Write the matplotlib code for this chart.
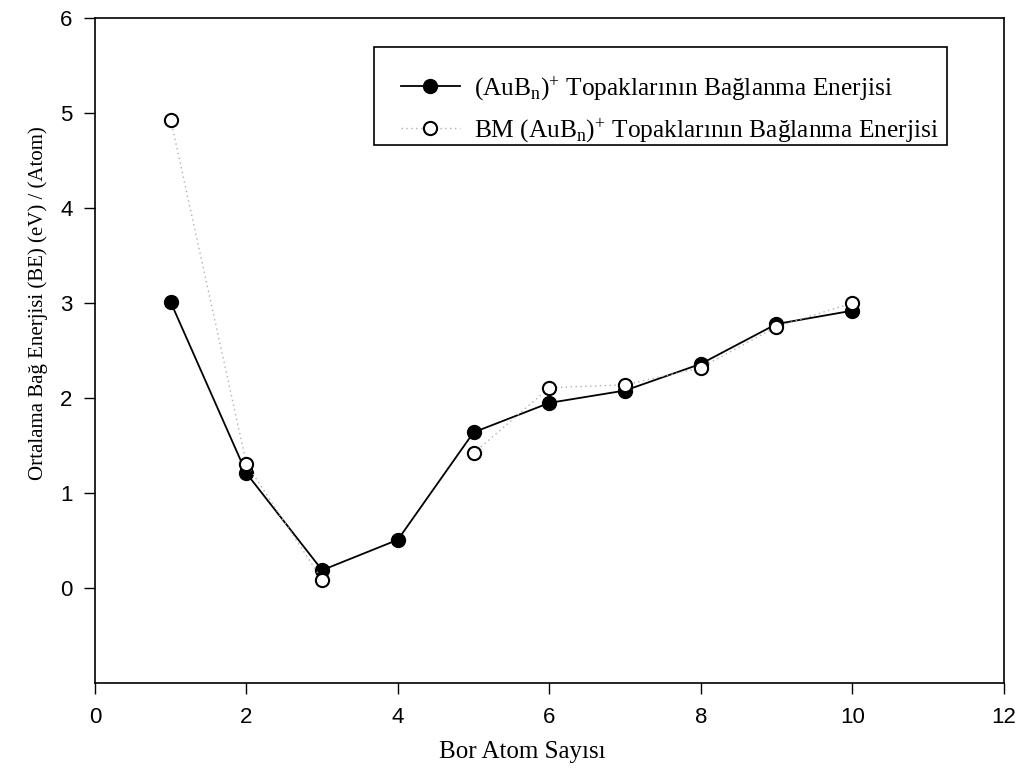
import matplotlib.pyplot as plt
from matplotlib.patches import Rectangle

# ---- data ----
# BM series has no value at n=4 (the dotted line is broken there)
n_bm = [1, 2, 3, 4, 5, 6, 7, 8, 9, 10]
be_bm = [4.93, 1.31, 0.09, float('nan'), 1.42, 2.11, 2.14, 2.32, 2.75, 3.00]

n_calc = [1, 2, 3, 4, 5, 6, 7, 8, 9, 10]
be_calc = [3.01, 1.21, 0.19, 0.51, 1.64, 1.95, 2.08, 2.36, 2.78, 2.92]

label_calc = r'(AuB$_\mathregular{n}$)$^\mathregular{+}$ Topaklarının Bağlanma Enerjisi'
label_bm = r'BM (AuB$_\mathregular{n}$)$^\mathregular{+}$ Topaklarının Bağlanma Enerjisi'

plt.rcParams['mathtext.fontset'] = 'custom'
plt.rcParams['mathtext.rm'] = 'Liberation Serif'
plt.rcParams['mathtext.it'] = 'Liberation Serif'

fig = plt.figure(figsize=(10.21, 7.8), dpi=100)
ax = fig.add_axes([0.093, 0.124, 0.890, 0.853])

ax.plot(n_calc, be_calc, color='black', linewidth=1.3, marker='o',
        markersize=10, markerfacecolor='black', markeredgecolor='black',
        label=label_calc, zorder=2)
ax.plot(n_bm, be_bm, color='#b0b0b0', linewidth=1.0, linestyle=(0, (1, 2.5)),
        marker='o', markersize=9.5, markerfacecolor='white',
        markeredgecolor='black', markeredgewidth=1.5,
        label=label_bm, zorder=3)

ax.set_xlim(0, 12)
ax.set_ylim(-1, 6)
ax.set_xticks(range(0, 13, 2))
ax.set_yticks(range(0, 7))
ax.tick_params(direction='out', length=8, width=1, labelsize=16)
for lab in ax.get_xticklabels() + ax.get_yticklabels():
    lab.set_fontfamily('Liberation Sans')
ax.tick_params(axis='x', pad=9)
ax.tick_params(axis='y', pad=8)
for s in ax.spines.values():
    s.set_linewidth(1.2)

ax.set_xlabel('Bor Atom Sayısı', fontsize=18, family='Liberation Serif')
ax.xaxis.set_label_coords(0.470, -0.087)
ax.set_ylabel('Ortalama Bağ Enerjisi (BE) (eV) / (Atom)', fontsize=15,
              family='Liberation Serif')
ax.yaxis.set_label_coords(-0.052, 0.571)

# legend box
ax.add_patch(Rectangle((0.307, 0.809), 0.631, 0.147, transform=ax.transAxes,
                       facecolor='white', edgecolor='black', linewidth=1.2,
                       zorder=4))
leg = ax.legend(loc='upper left', bbox_to_anchor=(0.337, 0.916), frameon=False,
                borderpad=0, borderaxespad=0, handlelength=2.3,
                handletextpad=0.55, labelspacing=0.5,
                prop={'family': 'Liberation Serif', 'size': 18.3})
leg.set_zorder(5)

fig.savefig('out.png', dpi=100)
